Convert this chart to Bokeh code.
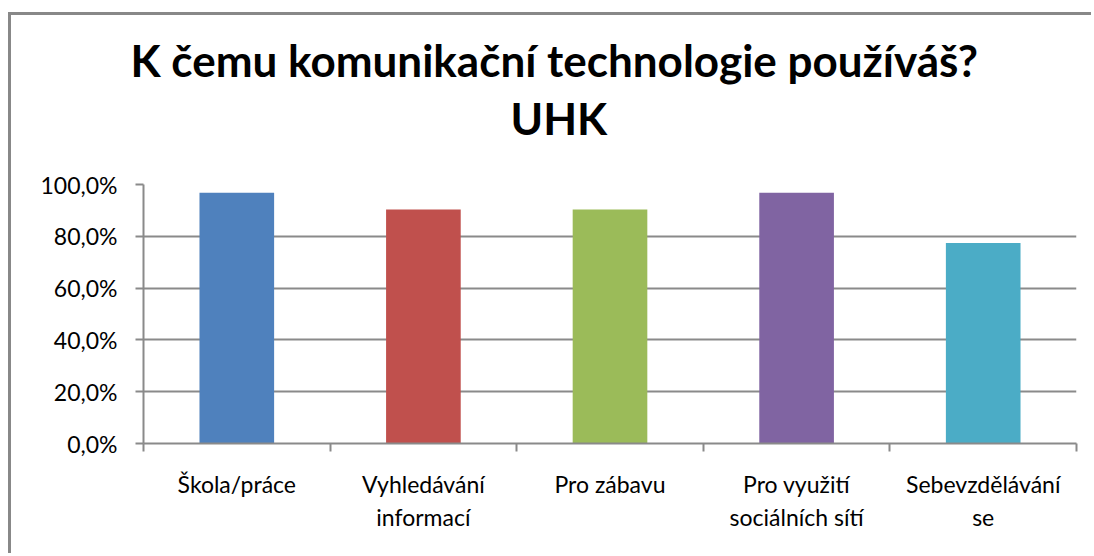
from bokeh.plotting import figure
from bokeh.models import FixedTicker, Range1d, ColumnDataSource, Title
from bokeh.embed import file_html
from bokeh.resources import INLINE

categories = ["Škola/práce", "Vyhledávání\ninformací", "Pro zábavu", "Pro využití\nsociálních sítí", "Sebevzdělávání\nse"]
values = [0.968, 0.903, 0.903, 0.968, 0.774]
colors = ["#4F81BD", "#C0504D", "#9BBB59", "#8064A2", "#4BACC6"]
y_ticks = [0.0, 0.2, 0.4, 0.6, 0.8, 1.0]
y_tick_labels = ["0,0%", "20,0%", "40,0%", "60,0%", "80,0%", "100,0%"]
title_lines = ["K čemu komunikační technologie používáš?", "UHK"]

FONT = "Lato"
GRAY = "#8a8a8a"

xs = [i + 0.5 for i in range(len(categories))]
src = ColumnDataSource(dict(x=xs, top=values, color=colors))

p = figure(width=1083, height=541, output_backend="svg", toolbar_location=None,
           x_range=Range1d(0, len(categories)), y_range=Range1d(0, 1),
           min_border_left=132, min_border_right=18, min_border_top=169, min_border_bottom=113,
           margin=(12, 0, 0, 8))
p.styles = {"border-style": "solid none none solid", "border-width": "3px 0px 0px 3px",
            "border-color": "#888888"}
p.outline_line_color = None

p.vbar(x="x", top="top", bottom=0, width=0.4, color="color", line_color=None, source=src)

# spacer panel between the frame and the title lines
p.add_layout(Title(text=" ", text_font_size="1px", standoff=36), "above")
p.add_layout(Title(text=title_lines[1], align="left", offset=367, text_font=FONT, text_font_size="44px",
                   text_font_style="bold", text_color="#000000", standoff=4), "above")
p.add_layout(Title(text=title_lines[0], align="left", offset=-13, text_font=FONT, text_font_size="44px",
                   text_font_style="bold", text_color="#000000", standoff=4), "above")

# y axis
p.yaxis.ticker = FixedTicker(ticks=y_ticks, minor_ticks=[])
p.yaxis.major_label_overrides = {v: s for v, s in zip(y_ticks, y_tick_labels)}
p.yaxis.major_label_text_font = FONT
p.yaxis.major_label_text_font_size = "23px"
p.yaxis.major_label_text_color = "#000000"
p.yaxis.major_label_standoff = 18
p.yaxis.axis_line_color = GRAY
p.yaxis.axis_line_width = 2
p.yaxis.major_tick_line_color = GRAY
p.yaxis.major_tick_line_width = 2
p.yaxis.major_tick_out = 8
p.yaxis.major_tick_in = 0
p.yaxis.minor_tick_line_color = None

# x axis
p.xaxis.ticker = FixedTicker(ticks=xs, minor_ticks=list(range(len(categories) + 1)))
p.xaxis.major_label_overrides = {x: c for x, c in zip(xs, categories)}
p.xaxis.major_label_text_font = FONT
p.xaxis.major_label_text_font_size = "23px"
p.xaxis.major_label_text_color = "#000000"
p.xaxis.major_label_standoff = 18
p.xaxis.axis_line_color = GRAY
p.xaxis.axis_line_width = 2
p.xaxis.major_tick_line_color = None
p.xaxis.minor_tick_line_color = GRAY
p.xaxis.minor_tick_line_width = 2
p.xaxis.minor_tick_out = 8
p.xaxis.minor_tick_in = 0

p.xgrid.grid_line_color = None
p.ygrid.grid_line_color = GRAY
p.ygrid.grid_line_width = 2
p.ygrid.ticker = p.yaxis.ticker

open("out.html", "w").write(file_html(p, INLINE))
